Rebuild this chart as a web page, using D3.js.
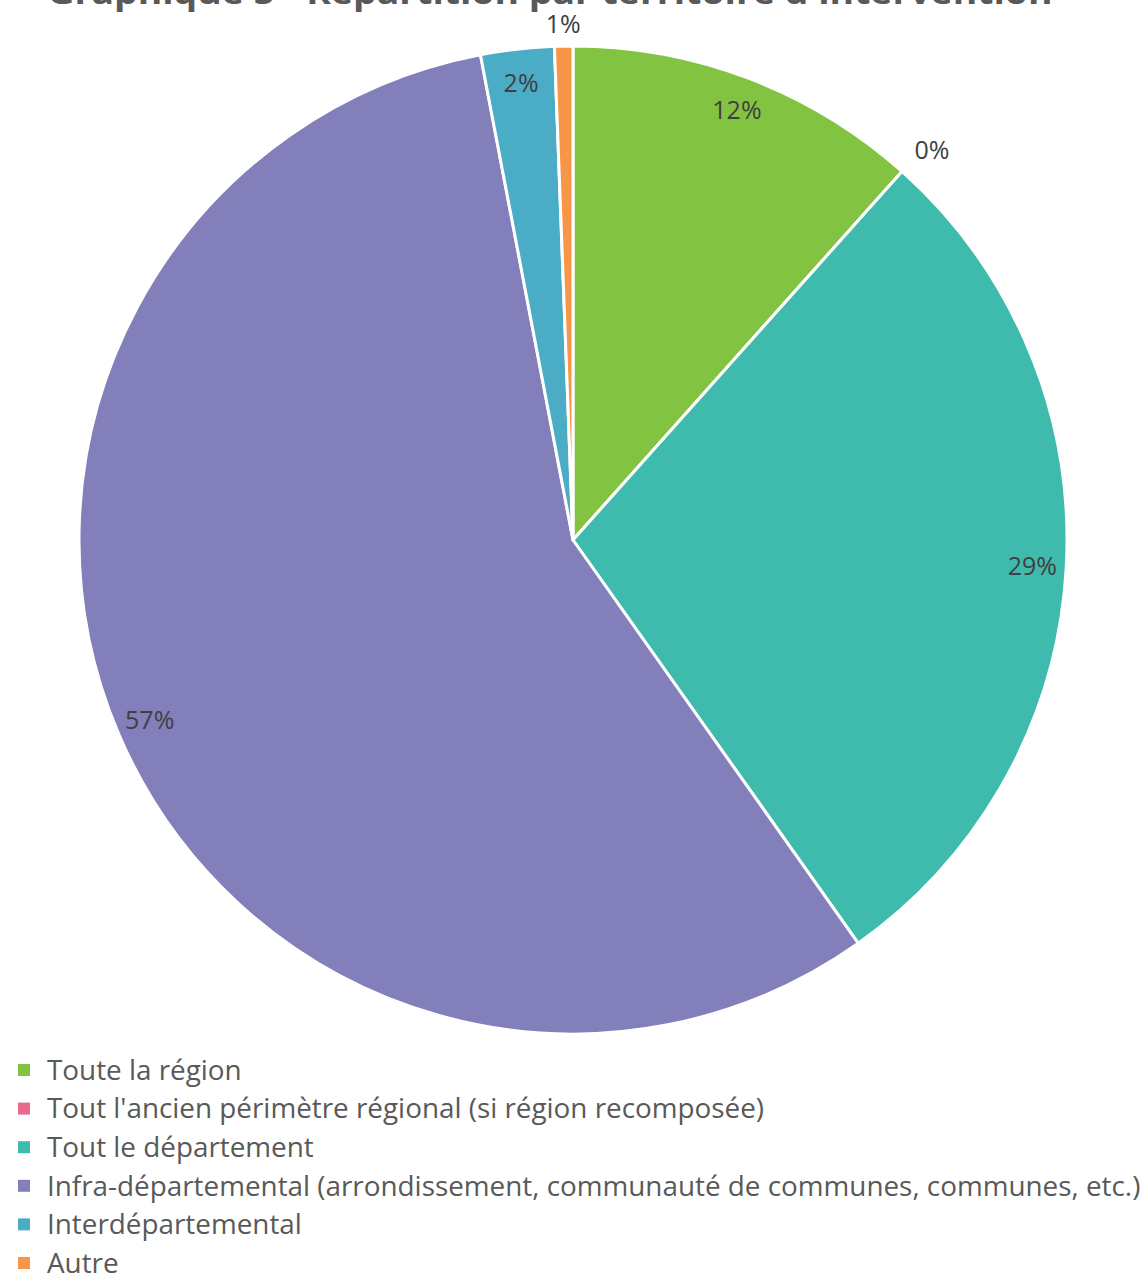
<!DOCTYPE html>
<html><head><meta charset="utf-8">
<script src="https://cdn.jsdelivr.net/npm/d3@7"></script>
<style>body{margin:0;background:#fff}svg{display:block}</style>
</head><body>
<script>
const categories = ["Toute la région","Tout l'ancien périmètre régional (si région recomposée)","Tout le département","Infra-départemental (arrondissement, communauté de communes, communes, etc.)","Interdépartemental","Autre"];
const values = [11.6, 0.0, 28.6, 56.8, 2.4, 0.6];
const labels = ["12%","0%","29%","57%","2%","1%"];
const colors = ["#82C341","#E8698A","#3FBBAD","#827FBA","#4BACC6","#F79646"];
const title = "Graphique 5 - Répartition par territoire d'intervention";

const W=1148,H=1273, cx=573, cy=540, R=494;
const svg=d3.select("body").append("svg").attr("width",W).attr("height",H);
const font="'Open Sans', 'Noto Sans', sans-serif";

svg.append("text").attr("x",550).attr("y",4).attr("text-anchor","middle")
  .attr("font-family",font).attr("font-weight","bold").attr("font-size",32)
  .attr("fill","#595959").attr("textLength",1005).attr("lengthAdjust","spacingAndGlyphs").text(title);

const pie=d3.pie().sort(null).value(d=>d)(values);
const arc=d3.arc().innerRadius(0).outerRadius(R);
const g=svg.append("g").attr("transform",`translate(${cx},${cy})`);
g.selectAll("path").data(pie).join("path").attr("d",arc)
  .attr("fill",(d,i)=>colors[i]).attr("stroke","#fff").attr("stroke-width",3).attr("stroke-linejoin","round");

g.selectAll("text.lbl").data(pie).join("text").attr("class","lbl")
  .each(function(d,i){
    const a=(d.startAngle+d.endAngle)/2;
    const small = d.value<1;
    let r = small ? 516 : 460;
    let aa = a;
    if(i===1){ aa = d.startAngle + 0.015; r = 530; }
    const x=Math.sin(aa)*r, y=-Math.cos(aa)*r;
    d3.select(this).attr("x",x).attr("y",y).attr("dy","0.35em");
  })
  .attr("text-anchor","middle").attr("font-family",font).attr("font-size",25)
  .attr("fill","#404040").text((d,i)=>labels[i]);

const leg=svg.append("g");
const rows=leg.selectAll("g").data(categories).join("g")
  .attr("transform",(d,i)=>`translate(0,${1070+i*38.6})`);
rows.append("rect").attr("x",18).attr("y",-6).attr("width",12).attr("height",12).attr("fill",(d,i)=>colors[i]);
const texts=rows.append("text").attr("x",47).attr("dy","0.35em").attr("font-family",font)
  .attr("font-size",24).attr("fill","#595959").text(d=>d);
const w=texts.nodes()[3].getComputedTextLength();
const fs=24*1094/w;
texts.attr("font-size",fs);
</script>
</body></html>
